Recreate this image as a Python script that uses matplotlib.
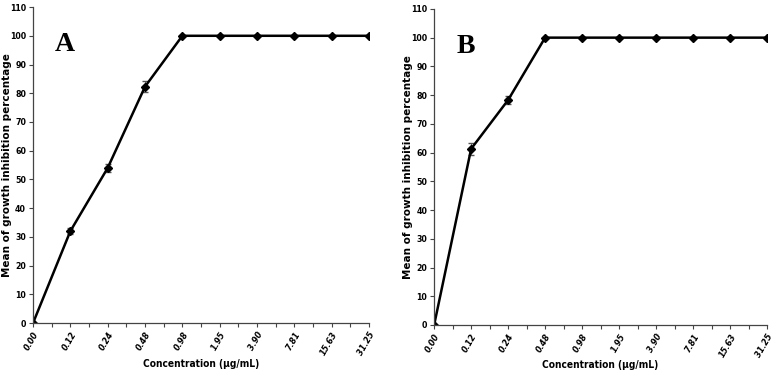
import numpy as np
import matplotlib.pyplot as plt

conc_labels = ['0.00', '0.12', '0.24', '0.48', '0.98', '1.95', '3.90', '7.81', '15.63', '31.25']
inhib_a = [0, 32, 54, 82.3, 100, 100, 100, 100, 100, 100]
err_a = [0, 1.0, 1.5, 2.0, 0, 0, 0, 0, 0, 0]
inhib_b = [0, 61.3, 78.3, 100, 100, 100, 100, 100, 100, 100]
err_b = [0, 2.0, 1.5, 0, 0, 0, 0, 0, 0, 0]

fig = plt.figure(figsize=(7.78, 3.71), dpi=100)
panels = [
    ([0.0424, 0.129, 0.432, 0.852], inhib_a, err_a, 'A'),
    ([0.558, 0.124, 0.428, 0.852], inhib_b, err_b, 'B'),
]

for rect, vals, errs, letter in panels:
    ax = fig.add_axes(rect)
    x = np.arange(len(conc_labels))
    ax.errorbar(x, vals, yerr=errs, color='black', lw=1.8, marker='D', ms=4,
                ecolor='#555555', elinewidth=0.7, capsize=2)
    ax.set_xlim(0, len(conc_labels) - 1)
    ax.set_ylim(0, 110)
    ax.set_yticks(np.arange(0, 111, 10))
    ax.set_xticks(x)
    ax.set_xticks(x[:-1] + 0.5, minor=True)
    ax.set_xticklabels(conc_labels, rotation=60, ha='right', rotation_mode='anchor',
                       fontsize=6.5, fontweight='bold', fontstyle='italic',
                       fontstretch='condensed')
    for lab in ax.get_yticklabels():
        lab.set_fontsize(6.3)
        lab.set_fontweight('bold')
        lab.set_fontstretch('condensed')
    ax.tick_params(axis='both', length=3, width=0.8, color='#444444', pad=2)
    ax.tick_params(axis='x', which='minor', length=3, width=0.8, color='#444444')
    for s in ['top', 'right']:
        ax.spines[s].set_visible(False)
    for s in ['left', 'bottom']:
        ax.spines[s].set_color('#444444')
        ax.spines[s].set_linewidth(0.9)
    ax.set_ylabel('Mean of growth inhibition percentage', fontsize=7.5,
                  fontweight='bold')
    ax.yaxis.set_label_coords(-0.062, 0.5)
    ax.set_xlabel('Concentration (\u00b5g/mL)', fontsize=7.3, fontweight='bold',
                  fontstretch='condensed')
    ax.xaxis.set_label_coords(0.5, -0.112)
    ax.text(0.095, 0.88, letter, transform=ax.transAxes, ha='center', va='center',
            fontsize=20, fontweight='bold', family='Liberation Serif')

fig.savefig('out.png', dpi=100)
